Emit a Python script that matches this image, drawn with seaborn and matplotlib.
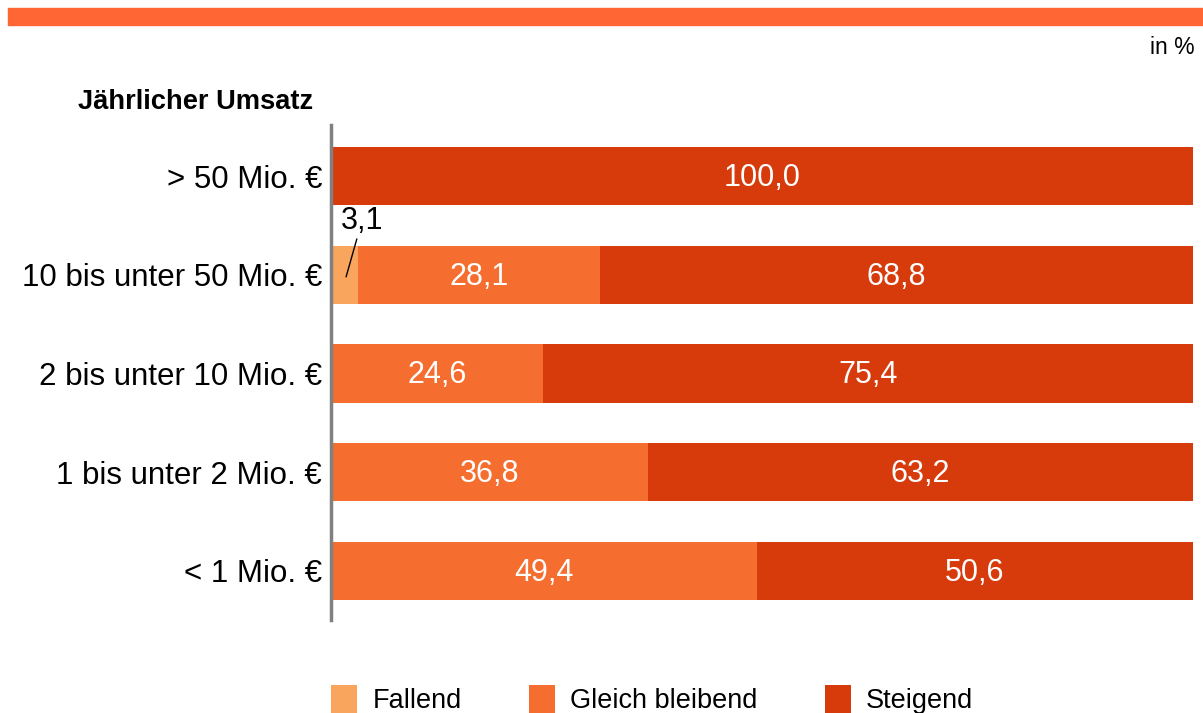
import matplotlib
matplotlib.use("Agg")
import matplotlib.pyplot as plt
import seaborn as sns
import pandas as pd
import numpy as np
from matplotlib.patches import Patch, Rectangle

categories = ["> 50 Mio. €", "10 bis unter 50 Mio. €", "2 bis unter 10 Mio. €",
              "1 bis unter 2 Mio. €", "< 1 Mio. €"]
fallend = [0.0, 3.1, 0.0, 0.0, 0.0]
gleich = [0.0, 28.1, 24.6, 36.8, 49.4]
steigend = [100.0, 68.8, 75.4, 63.2, 50.6]
series_names = ["Fallend", "Gleich bleibend", "Steigend"]
colors = ["#F9A55E", "#F56E30", "#D73B0C"]

sns.set_theme(style="white")
plt.rcParams['font.family'] = ['Liberation Sans', 'DejaVu Sans']
plt.rcParams['text.color'] = 'black'
plt.rcParams['ytick.color'] = 'black'

fig = plt.figure(figsize=(12.03, 7.13), dpi=100)
ax = fig.add_axes([331/1203, 1-620/713, (1193-331)/1203, (620-125)/713])

df = pd.DataFrame({"cat": categories, "f": fallend, "g": gleich, "s": steigend})
df["fg"] = df["f"] + df["g"]
df["total"] = df["fg"] + df["s"]

for col, c in [("total", colors[2]), ("fg", colors[1]), ("f", colors[0])]:
    sns.barplot(data=df, x=col, y="cat", order=categories, color=c, orient="h",
                width=0.59, saturation=1, ax=ax, linewidth=0)

ax.set_xlim(0, 100)
ax.set_ylim(4.5, -0.52)
ax.set_xlabel("")
ax.set_ylabel("")
ax.set_xticks([])
ax.tick_params(axis="y", labelsize=22.5, length=0, pad=6.5, colors="black")
for s in ["top", "right", "bottom"]:
    ax.spines[s].set_visible(False)
ax.spines["left"].set_color("#808080")
ax.spines["left"].set_linewidth(2.5)

# value labels
for i in range(len(categories)):
    segs = [(0, fallend[i]), (fallend[i], gleich[i]), (fallend[i] + gleich[i], steigend[i])]
    for j, (start, w) in enumerate(segs):
        if w <= 0:
            continue
        lab = f"{w:.1f}".replace(".", ",")
        if w < 5:
            ax.annotate(lab, xy=(start + w / 2 + 0.2, i + 0.02), xytext=(3.6, i - 0.55),
                        fontsize=22, color="black", ha="center", va="center",
                        arrowprops=dict(arrowstyle="-", color="black", lw=1.0,
                                        shrinkA=0, shrinkB=0), zorder=5)
        else:
            ax.text(start + w / 2, i + 0.02, lab, ha="center", va="center", fontsize=22,
                    color="white")

# top band
fig.patches.append(Rectangle((8/1203, 1-25/713), 1-8/1203, 17/713, transform=fig.transFigure,
                             color="#FF6633", zorder=0))
fig.text(1195/1203, 1-48/713, "in %", ha="right", va="center", fontsize=16.5)
fig.text(78/1203, 1-102/713, "Jährlicher Umsatz", ha="left", va="center", fontsize=19.6,
         fontweight="bold")

handles = [Patch(facecolor=c, edgecolor="none") for c in colors]
fig.legend(handles, series_names, loc="lower left", bbox_to_anchor=(307/1203, -0.036),
           ncol=3, frameon=False, fontsize=19.5, handlelength=0.96, handleheight=1.2,
           handletextpad=0.55, columnspacing=2.5)

fig.savefig("out.png", dpi=100)
